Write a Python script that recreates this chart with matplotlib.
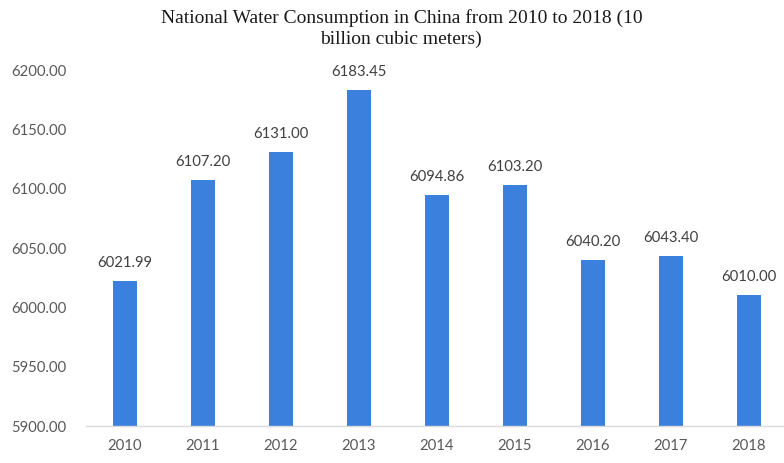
import matplotlib
matplotlib.use("Agg")
import matplotlib.pyplot as plt

years = ["2010", "2011", "2012", "2013", "2014", "2015", "2016", "2017", "2018"]
values = [6021.99, 6107.20, 6131.00, 6183.45, 6094.86, 6103.20, 6040.20, 6043.40, 6010.00]
yticks = [5900, 5950, 6000, 6050, 6100, 6150, 6200]
title = "National Water Consumption in China from 2010 to 2018 (10\nbillion cubic meters)"

fig = plt.figure(figsize=(7.84, 4.63), dpi=100)
ax = fig.add_axes([86/784, 1-426/463, 702/784, (426-70)/463])

x = range(len(years))
ax.bar(x, values, width=0.31, color="#3a80dc", zorder=2)
ax.set_xlim(-0.5, len(years)-0.5)
ax.set_ylim(5900, 6200)
ax.set_yticks(yticks)
ax.set_yticklabels([f"{v:.2f}" for v in yticks], fontsize=10.7, color="#595959", family="Lato")
ax.set_xticks(list(x))
ax.set_xticklabels(years, fontsize=10.7, color="#595959", family="Lato")
ax.tick_params(axis="y", length=0, pad=14)
ax.tick_params(axis="x", length=0, pad=9)
for s in ["top", "right", "left"]:
    ax.spines[s].set_visible(False)
ax.spines["bottom"].set_color("#d9d9d9")
ax.spines["bottom"].set_linewidth(1)

for xi, v in zip(x, values):
    ax.annotate(f"{v:.2f}", (xi, v), xytext=(0, 8), textcoords="offset points",
                ha="center", va="bottom", fontsize=10.7, color="#404040", family="Lato")

fig.text(0.512, 1-9/463, title, ha="center", va="top", fontsize=14,
         family="Liberation Serif", color="#1a1a1a", linespacing=1.3)

fig.savefig("out.png", dpi=100)
